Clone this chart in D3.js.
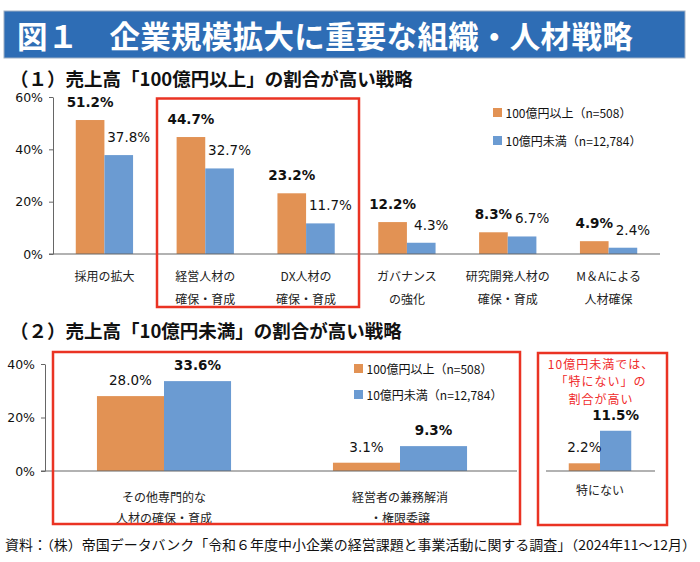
<!DOCTYPE html>
<html>
<head>
<meta charset="utf-8">
<script src="https://cdn.jsdelivr.net/npm/d3@7"></script>
<style>
  body { margin: 0; background: #fff; }
</style>
</head>
<body>
<div id="chart"></div>
<script>
// --- data ---
const title = "図１　企業規模拡大に重要な組織・人材戦略";
const subtitle1 = "（１）売上高「100億円以上」の割合が高い戦略";
const subtitle2 = "（２）売上高「10億円未満」の割合が高い戦略";
const source = "資料：（株）帝国データバンク「令和６年度中小企業の経営課題と事業活動に関する調査」（2024年11～12月）";
const seriesNames = ["100億円以上（n=508）", "10億円未満（n=12,784）"];
const note3 = ["10億円未満では、", "「特にない」の", "割合が高い"];

const cats1 = [["採用の拡大"], ["経営人材の", "確保・育成"], ["DX人材の", "確保・育成"],
               ["ガバナンス", "の強化"], ["研究開発人材の", "確保・育成"], ["M＆Aによる", "人材確保"]];
const large1 = [51.2, 44.7, 23.2, 12.2, 8.3, 4.9];
const small1 = [37.8, 32.7, 11.7, 4.3, 6.7, 2.4];
const ticks1 = [0, 20, 40, 60];

const cats2 = [["その他専門的な", "人材の確保・育成"], ["経営者の兼務解消", "・権限委譲"]];
const large2 = [28.0, 3.1];
const small2 = [33.6, 9.3];
const ticks2 = [0, 20, 40];

const cats3 = [["特にない"]];
const large3 = [2.2];
const small3 = [11.5];

const width = 700, height = 562;
const colors = {large: "#e29254", small: "#6b9bd2"};
const RED = "#ea3323";
const JP = "'Noto Sans CJK JP', sans-serif";
const NUM = "'DejaVu Sans', 'Noto Sans CJK JP', sans-serif";

const svg = d3.select("#chart").append("svg")
    .attr("width", width)
    .attr("height", height)
    .attr("viewBox", [0, 0, width, height]);

// title banner
svg.append("rect")
    .attr("x", 4).attr("y", 11).attr("width", 681).attr("height", 47)
    .attr("fill", "#2e6db5").attr("stroke", "#9fb0c4").attr("stroke-width", 1);
svg.append("text")
    .attr("x", 17).attr("y", 34.5)
    .attr("dominant-baseline", "central")
    .attr("font-family", JP).attr("font-weight", "bold").attr("font-size", 30.5)
    .attr("letter-spacing", 0.3)
    .attr("fill", "#fff")
    .text(title);

svg.append("text")
    .attr("x", 10).attr("y", 77.5)
    .attr("dominant-baseline", "central")
    .attr("font-family", JP).attr("font-weight", "bold").attr("font-size", 18.5)
    .attr("fill", "#111")
    .text(subtitle1);

svg.append("text")
    .attr("x", 10).attr("y", 330)
    .attr("dominant-baseline", "central")
    .attr("font-family", JP).attr("font-weight", "bold").attr("font-size", 18.5)
    .attr("fill", "#111")
    .text(subtitle2);

function groupChart({cats, large, small, xRange, y, axisX, ticks, baseline, boldLarge,
                     smallShift = 0, labelGap = 12, catY}) {
  const data = cats.map((c, i) => ({cat: c, i, large: large[i], small: small[i]}));

  const x0 = d3.scaleBand()
      .domain(data.map(d => d.i))
      .range(xRange);

  const x1 = d3.scaleBand()
      .domain(["large", "small"])
      .range([0, x0.bandwidth()])
      .paddingOuter(0.76);

  const g = svg.append("g");

  if (ticks) {
    g.append("g")
        .attr("transform", `translate(${axisX},0)`)
        .call(d3.axisLeft(y).tickValues(ticks).tickFormat(d => d + "%").tickSize(4).tickSizeOuter(0))
        .call(a => a.select(".domain").attr("stroke", "#666"))
        .call(a => a.selectAll(".tick line").attr("stroke", "#666"))
        .call(a => a.selectAll(".tick text")
            .attr("x", -10)
            .attr("font-family", NUM).attr("font-size", 12.5).attr("fill", "#111"));
  }

  const grp = g.selectAll(".grp")
    .data(data)
    .join("g")
      .attr("class", "grp")
      .attr("transform", d => `translate(${x0(d.i)},0)`);

  grp.selectAll("rect")
    .data(d => ["large", "small"].map(k => ({k, v: d[k]})))
    .join("rect")
      .attr("x", d => x1(d.k))
      .attr("y", d => y(d.v))
      .attr("width", x1.bandwidth())
      .attr("height", d => y(0) - y(d.v))
      .attr("fill", d => colors[d.k]);

  grp.selectAll(".val")
    .data(d => ["large", "small"].map(k => ({k, v: d[k]})))
    .join("text")
      .attr("class", "val")
      .attr("x", d => x1(d.k) + x1.bandwidth() / 2 + (d.k === "small" ? smallShift : 0))
      .attr("y", d => y(d.v) - labelGap)
      .attr("text-anchor", "middle")
      .attr("font-family", NUM).attr("font-size", 13.5)
      .attr("font-weight", d => (d.k === "large") === boldLarge ? "bold" : "normal")
      .attr("fill", "#111")
      .text(d => d.v.toFixed(1) + "%");

  grp.selectAll(".cat")
    .data(d => d.cat)
    .join("text")
      .attr("class", "cat")
      .attr("x", x0.bandwidth() / 2)
      .attr("y", (d, j) => catY[j])
      .attr("text-anchor", "middle")
      .attr("dominant-baseline", "central")
      .attr("font-family", JP).attr("font-size", 12)
      .attr("fill", "#222")
      .text(d => d);

  g.append("line")
      .attr("x1", baseline[0]).attr("x2", baseline[1])
      .attr("y1", y(0)).attr("y2", y(0))
      .attr("stroke", "#666").attr("stroke-width", 1.2);
}

function legend(x, y0, dy) {
  const lg = svg.append("g").attr("transform", `translate(${x},${y0})`);
  const item = lg.selectAll("g")
    .data(["large", "small"])
    .join("g")
      .attr("transform", (d, i) => `translate(0,${i * dy})`);
  item.append("rect")
      .attr("x", 0).attr("y", -4.5).attr("width", 9).attr("height", 9)
      .attr("fill", d => colors[d]);
  item.append("text")
      .attr("x", 12.5)
      .attr("dominant-baseline", "central")
      .attr("font-family", JP).attr("font-size", 12)
      .attr("fill", "#111")
      .text((d, i) => seriesNames[i]);
}

// (1)
const y1 = d3.scaleLinear().domain([0, 60]).range([254, 97]);
groupChart({cats: cats1, large: large1, small: small1, xRange: [54, 659], y: y1,
            axisX: 53, ticks: ticks1, baseline: [49, 660], boldLarge: true,
            smallShift: 10, labelGap: 13, catY: [275, 298]});
legend(493, 112.5, 28);

// (2)
const y2 = d3.scaleLinear().domain([0, 40]).range([471, 364]);
groupChart({cats: cats2, large: large2, small: small2, xRange: [46, 518], y: y2,
            axisX: 45, ticks: ticks2, baseline: [41, 517], boldLarge: false,
            labelGap: 11, catY: [496, 517]});
legend(354, 368.5, 26);

// (3) single category, own scale
const y3 = d3.scaleLinear().domain([0, 20]).range([471, 401]);
groupChart({cats: cats3, large: large3, small: small3, xRange: [545, 655], y: y3,
            ticks: null, baseline: [546, 655], boldLarge: false,
            labelGap: 11, catY: [489]});

svg.append("g")
  .selectAll("text")
  .data(note3)
  .join("text")
    .attr("x", 601)
    .attr("y", (d, i) => 363 + i * 17.6)
    .attr("text-anchor", "middle")
    .attr("dominant-baseline", "central")
    .attr("font-family", JP).attr("font-size", 12)
    .attr("letter-spacing", 1)
    .attr("fill", "#f02a2a")
    .text(d => d);

// red highlight boxes
svg.append("g")
    .attr("fill", "none").attr("stroke", RED).attr("stroke-width", 2.5)
  .selectAll("rect")
  .data([[157, 98.5, 202, 208.5], [53, 352, 467, 172], [538, 353, 129, 172]])
  .join("rect")
    .attr("x", d => d[0]).attr("y", d => d[1])
    .attr("width", d => d[2]).attr("height", d => d[3]);

svg.append("text")
    .attr("x", 5).attr("y", 544)
    .attr("dominant-baseline", "central")
    .attr("font-family", JP).attr("font-size", 13.5)
    .attr("fill", "#111")
    .attr("textLength", 691).attr("lengthAdjust", "spacingAndGlyphs")
    .text(source);
</script>
</body>
</html>
